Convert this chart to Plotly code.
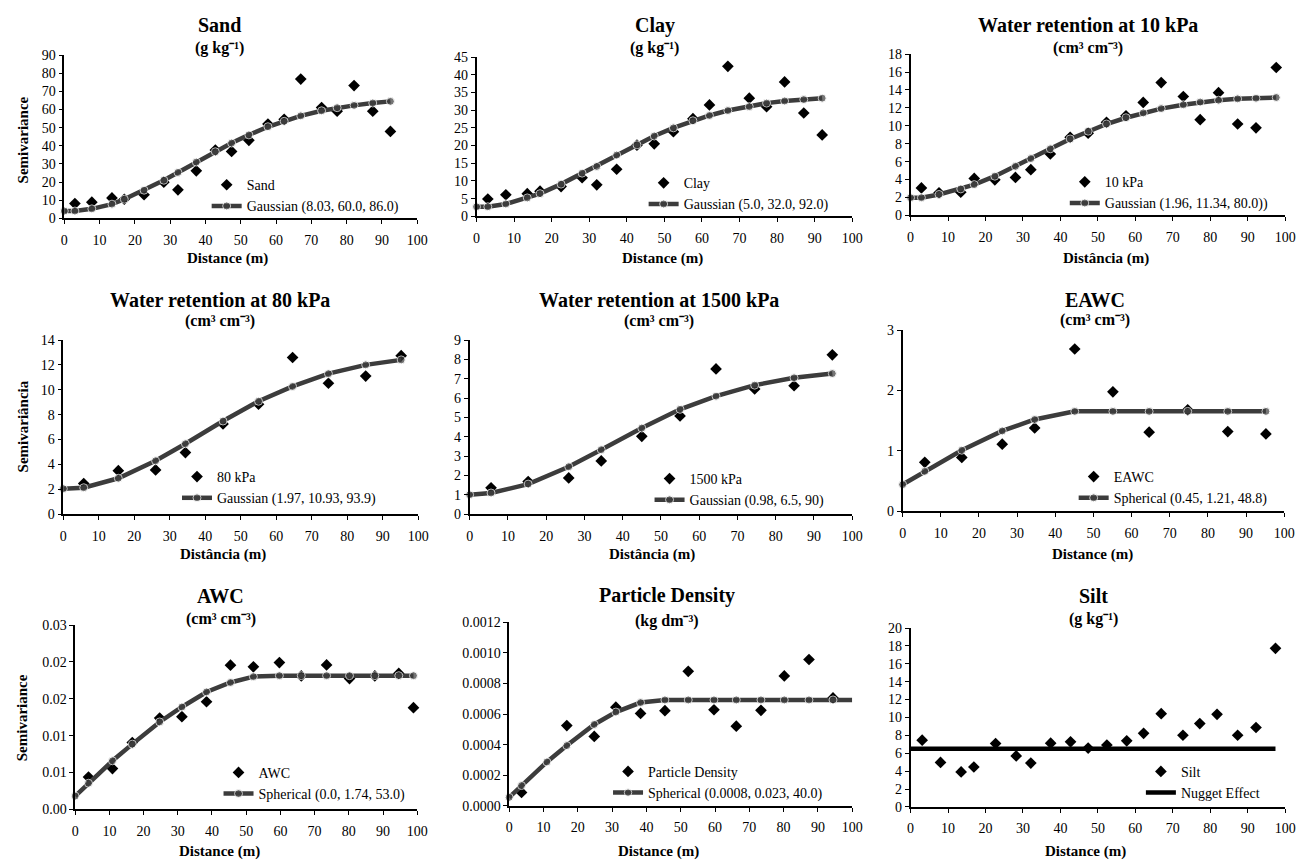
import plotly.graph_objects as go

W, H = 1316, 866
FONT = "Liberation Serif"

# ---------------- data ----------------
sand_x = [3.0, 7.8, 13.5, 17.0, 22.6, 28.2, 32.2, 37.4, 42.8, 47.4, 52.3, 57.7, 62.3, 67.0, 72.9, 77.3, 82.1, 87.4, 92.4]
sand_y = [8.1, 8.9, 11.2, 10.5, 13.0, 19.9, 15.7, 26.2, 37.6, 36.9, 43.0, 52.0, 54.6, 76.8, 61.1, 59.1, 73.2, 59.1, 47.9]
sand_mx = [0, 3.0, 7.8, 13.5, 17.0, 22.6, 28.2, 32.2, 37.4, 42.8, 47.4, 52.3, 57.7, 62.3, 67.0, 72.9, 77.3, 82.1, 87.4, 92.4]
sand_my = [4.0, 4.0, 5.2, 7.8, 10.5, 15.5, 21.0, 25.3, 31.0, 36.7, 41.5, 46.0, 50.5, 53.5, 56.5, 59.3, 61.0, 62.3, 63.6, 64.5]

clay_x = [3.0, 7.8, 13.5, 16.9, 22.5, 28.1, 32.0, 37.3, 42.7, 47.3, 52.4, 57.6, 62.0, 66.9, 72.6, 77.2, 82.0, 87.1, 92.0]
clay_y = [4.9, 6.1, 6.4, 7.1, 8.4, 10.9, 8.9, 13.3, 20.1, 20.5, 23.9, 27.6, 31.5, 42.4, 33.4, 31.0, 38.0, 29.2, 23.0]
clay_mx = [0, 3.0, 7.8, 13.5, 16.9, 22.5, 28.1, 32.0, 37.3, 42.7, 47.3, 52.4, 57.6, 62.0, 66.9, 72.6, 77.2, 82.0, 87.1, 92.0]
clay_my = [2.7, 2.7, 3.5, 5.2, 6.4, 9.1, 12.2, 14.1, 17.3, 20.2, 22.7, 25.0, 27.0, 28.5, 29.9, 31.0, 32.0, 32.6, 33.0, 33.4]

k10_x = [2.9, 7.6, 13.4, 17.0, 22.5, 28.0, 32.1, 37.3, 42.6, 47.4, 52.3, 57.5, 62.1, 66.9, 72.8, 77.3, 82.2, 87.3, 92.2, 97.6]
k10_y = [3.06, 2.51, 2.59, 4.12, 3.97, 4.23, 5.10, 6.85, 8.71, 9.18, 10.39, 11.12, 12.61, 14.83, 13.27, 10.68, 13.70, 10.20, 9.77, 16.51]
k10_mx = [0, 2.9, 7.6, 13.4, 17.0, 22.5, 28.0, 32.1, 37.3, 42.6, 47.4, 52.3, 57.5, 62.1, 66.9, 72.8, 77.3, 82.2, 87.3, 92.2, 97.6]
k10_my = [1.97, 1.97, 2.33, 2.95, 3.43, 4.37, 5.47, 6.34, 7.43, 8.53, 9.40, 10.2, 10.9, 11.44, 11.92, 12.35, 12.65, 12.86, 13.01, 13.08, 13.16]

k80_x = [5.75, 15.5, 26.0, 34.4, 45.0, 55.0, 64.6, 74.7, 85.2, 95.2]
k80_y = [2.46, 3.49, 3.55, 4.95, 7.25, 8.84, 12.6, 10.53, 11.11, 12.75]
k80_mx = [0, 5.75, 15.5, 26.0, 34.4, 45.0, 55.0, 64.6, 74.7, 85.2, 95.2]
k80_my = [2.04, 2.12, 2.88, 4.29, 5.66, 7.49, 9.08, 10.27, 11.3, 12.01, 12.41]

k1500_x = [5.6, 15.3, 25.9, 34.4, 45.0, 55.0, 64.4, 74.5, 84.8, 94.8]
k1500_y = [1.36, 1.68, 1.87, 2.75, 4.02, 5.08, 7.51, 6.47, 6.64, 8.24]
k1500_mx = [0, 5.6, 15.3, 25.9, 34.4, 45.0, 55.0, 64.4, 74.5, 84.8, 94.8]
k1500_my = [1.0, 1.09, 1.55, 2.45, 3.33, 4.45, 5.42, 6.10, 6.67, 7.05, 7.27]

eawc_x = [5.8, 15.5, 26.1, 34.6, 45.1, 55.1, 64.6, 74.7, 85.2, 95.2]
eawc_y = [0.81, 0.89, 1.11, 1.38, 2.69, 1.98, 1.31, 1.68, 1.32, 1.28]
eawc_mx = [0, 5.8, 15.5, 26.1, 34.6, 45.1, 55.1, 64.6, 74.7, 85.2, 95.2]
eawc_my = [0.44, 0.66, 1.01, 1.33, 1.52, 1.655, 1.655, 1.655, 1.655, 1.655, 1.655]

awc_x = [3.9, 10.9, 16.7, 24.7, 31.2, 38.4, 45.4, 52.1, 59.7, 66.1, 73.5, 80.2, 87.6, 94.6, 98.9]
awc_y = [0.00438, 0.00553, 0.00907, 0.01239, 0.01257, 0.0146, 0.01956, 0.01934, 0.01991, 0.0181, 0.0196, 0.01774, 0.0181, 0.01845, 0.0138]
awc_mx = [0, 3.9, 10.9, 16.7, 24.7, 31.2, 38.4, 45.4, 52.1, 59.7, 66.1, 73.5, 80.2, 87.6, 94.6, 98.9]
awc_my = [0.0018, 0.00354, 0.00659, 0.00885, 0.01186, 0.01389, 0.01593, 0.01721, 0.01801, 0.01814, 0.01814, 0.01814, 0.01814, 0.01814, 0.01814, 0.01814]
awc_tickvals = [0, 0.005, 0.010, 0.015, 0.020, 0.025]
awc_ticktext = ["0.00", "0.01", "0.01", "0.02", "0.02", "0.03"]

pd_x = [3.6, 16.8, 24.8, 31.1, 38.3, 45.4, 52.2, 59.7, 66.2, 73.4, 80.2, 87.4, 94.4]
pd_y = [0.000088, 0.000525, 0.000454, 0.000645, 0.000604, 0.000622, 0.000879, 0.000628, 0.000521, 0.000624, 0.000849, 0.000956, 0.000705]
pd_mx = [0, 3.6, 11.0, 16.8, 24.8, 31.1, 38.3, 45.4, 52.2, 59.7, 66.2, 73.4, 80.2, 87.4, 94.4, 100]
pd_my = [0.000056, 0.000133, 0.000287, 0.000394, 0.000532, 0.000613, 0.000675, 0.000692, 0.000692, 0.000692, 0.000692, 0.000692, 0.000692, 0.000692, 0.000692, 0.000692]

silt_x = [3.1, 8.0, 13.5, 16.9, 22.7, 28.2, 32.1, 37.4, 42.7, 47.4, 52.4, 57.7, 62.2, 66.9, 72.7, 77.2, 81.8, 87.3, 92.2, 97.4]
silt_y = [7.46, 4.97, 3.91, 4.46, 7.09, 5.70, 4.90, 7.13, 7.28, 6.58, 6.91, 7.39, 8.23, 10.42, 8.01, 9.32, 10.35, 8.01, 8.88, 17.73]
silt_mx = [0, 97.4]
silt_my = [6.51, 6.51]

panels = [
    dict(title="Sand", unit="(g kg⁻¹)", dname="Sand", dx=sand_x, dy=sand_y,
         mname="Gaussian (8.03, 60.0, 86.0)", mx=sand_mx, my=sand_my, yr=[0, 90], dt=10,
         xt="Distance (m)", yt="Semivariance"),
    dict(title="Clay", unit="(g kg⁻¹)", dname="Clay", dx=clay_x, dy=clay_y,
         mname="Gaussian (5.0, 32.0, 92.0)", mx=clay_mx, my=clay_my, yr=[0, 45], dt=5,
         xt="Distance (m)", yt=None),
    dict(title="Water retention at 10 kPa", unit="(cm³ cm⁻³)", dname="10 kPa", dx=k10_x, dy=k10_y,
         mname="Gaussian (1.96, 11.34, 80.0))", mx=k10_mx, my=k10_my, yr=[0, 18], dt=2,
         xt="Distância (m)", yt=None),
    dict(title="Water retention at 80 kPa", unit="(cm³ cm⁻³)", dname="80 kPa", dx=k80_x, dy=k80_y,
         mname="Gaussian (1.97, 10.93, 93.9)", mx=k80_mx, my=k80_my, yr=[0, 14], dt=2,
         xt="Distância (m)", yt="Semivariância"),
    dict(title="Water retention at 1500 kPa", unit="(cm³ cm⁻³)", dname="1500 kPa", dx=k1500_x, dy=k1500_y,
         mname="Gaussian (0.98, 6.5, 90)", mx=k1500_mx, my=k1500_my, yr=[0, 9], dt=1,
         xt="Distância (m)", yt=None),
    dict(title="EAWC", unit="(cm³ cm⁻³)", dname="EAWC", dx=eawc_x, dy=eawc_y,
         mname="Spherical (0.45, 1.21, 48.8)", mx=eawc_mx, my=eawc_my, yr=[0, 3], dt=1,
         xt="Distance (m)", yt=None),
    dict(title="AWC", unit="(cm³ cm⁻³)", dname="AWC", dx=awc_x, dy=awc_y,
         mname="Spherical (0.0, 1.74, 53.0)", mx=awc_mx, my=awc_my, yr=[0, 0.025], dt=None,
         xt="Distance (m)", yt="Semivariance"),
    dict(title="Particle Density", unit="(kg dm⁻³)", dname="Particle Density", dx=pd_x, dy=pd_y,
         mname="Spherical (0.0008, 0.023, 40.0)", mx=pd_mx, my=pd_my, yr=[0, 0.0012], dt=0.0002,
         xt="Distance (m)", yt=None),
    dict(title="Silt", unit="(g kg⁻¹)", dname="Silt", dx=silt_x, dy=silt_y,
         mname="Nugget Effect", mx=silt_mx, my=silt_my, yr=[0, 20], dt=2,
         xt="Distance (m)", yt=None),
]

# ---------------- layout geometry (pixels) ----------------
boxes = [(61, 418, 49, 215), (478, 858, 51, 213), (917, 1296, 48, 212),
         (60, 419, 339, 516), (471, 858, 339, 516), (909, 1295, 329, 513),
         (72, 418, 629, 816.5), (511, 858, 626, 813), (917, 1296, 632, 814)]
title_pos = [(218, 18, 42), (658, 19, 42), (1096, 18, 42),
             (218, 298, 320), (663, 298, 320), (1104, 298, 319),
             (219, 599, 623), (671, 599, 625), (1102, 599, 623)]
xt_pos = [(226, 256), (666, 256), (1115, 256),
          (222, 557), (655, 557), (1101, 557),
          (218, 859), (662, 859), (1094, 859)]
yt_pos = [(19, 135), None, None, (19, 427), None, None, (19, 723), None, None]
leg_pos = [(247, 186), (689, 184), (1115, 183),
           (217, 483), (695, 485), (1124, 483),
           (259, 784), (653, 783), (1192, 783)]

def px(x):
    return x / W

def py(y):
    return 1 - y / H

BOLD = dict(family=FONT, weight="bold", color="black")

fig = go.Figure()
layout = dict(width=W, height=H, margin=dict(l=0, r=0, t=0, b=0),
              paper_bgcolor="white", plot_bgcolor="white",
              font=dict(family=FONT, size=14, color="black"),
              annotations=[])

for i, p in enumerate(panels):
    n = i + 1
    sfx = "" if n == 1 else str(n)
    x0, x1, y0, y1 = boxes[i]
    leg = "legend" if n == 1 else f"legend{n}"
    xa, ya = f"x{sfx}", f"y{sfx}"

    fig.add_trace(go.Scatter(x=p["dx"], y=p["dy"], mode="markers", name=p["dname"],
                             marker=dict(symbol="diamond", size=9, color="black"),
                             xaxis=xa, yaxis=ya, legend=leg, cliponaxis=False))
    if p["mname"] == "Nugget Effect":
        fig.add_trace(go.Scatter(x=p["mx"], y=p["my"], mode="lines", name=p["mname"],
                                 line=dict(color="black", width=4.5),
                                 xaxis=xa, yaxis=ya, legend=leg, cliponaxis=False))
    else:
        sizes = [8] * len(p["mx"])
        if p["dname"] == "Particle Density":
            sizes[-1] = 0
        fig.add_trace(go.Scatter(x=p["mx"], y=p["my"], mode="lines+markers", name=p["mname"],
                                 line=dict(color="#3c3c3c", width=4.5),
                                 marker=dict(symbol="circle", size=sizes, color="#3c3c3c"),
                                 xaxis=xa, yaxis=ya, legend=leg, cliponaxis=False))

    layout[f"xaxis{sfx}"] = dict(domain=[px(x0), px(x1)], anchor=ya, range=[0, 100], dtick=10,
                                 showline=True, linecolor="black", linewidth=1.5,
                                 ticks="outside", ticklen=4, tickcolor="black",
                                 showgrid=False, zeroline=False, tickfont=dict(size=14),
                                 ticklabelstandoff=4)
    yax = dict(domain=[py(y1), py(y0)], anchor=xa, range=p["yr"],
               showline=True, linecolor="black", linewidth=1.5,
               ticks="outside", ticklen=4, tickcolor="black",
               showgrid=False, zeroline=False, tickfont=dict(size=14))
    if p["dt"] is None:
        yax.update(tickmode="array", tickvals=awc_tickvals, ticktext=awc_ticktext)
    else:
        yax.update(dtick=p["dt"])
        if p["dt"] < 0.001:
            yax.update(tickformat=".4f")
    layout[f"yaxis{sfx}"] = yax

    lx, ly = leg_pos[i]
    layout[leg] = dict(x=px(lx - 42), y=py(ly - 21), xanchor="left", yanchor="top",
                       bgcolor="rgba(0,0,0,0)", font=dict(size=14, family=FONT),
                       tracegroupgap=0)

    tx, ty, sy = title_pos[i]
    layout["annotations"].append(dict(text=p["title"], x=px(tx), y=py(ty),
                                      xref="paper", yref="paper", showarrow=False,
                                      xanchor="center", yanchor="middle",
                                      font=dict(size=20, **BOLD)))
    layout["annotations"].append(dict(text=p["unit"], x=px(tx), y=py(sy),
                                      xref="paper", yref="paper", showarrow=False,
                                      xanchor="center", yanchor="middle",
                                      font=dict(size=16, **BOLD)))
    ax, ay = xt_pos[i]
    layout["annotations"].append(dict(text=p["xt"], x=px(ax), y=py(ay),
                                      xref="paper", yref="paper", showarrow=False,
                                      xanchor="center", yanchor="middle",
                                      font=dict(size=15, **BOLD)))
    if p["yt"]:
        yx, yy = yt_pos[i]
        layout["annotations"].append(dict(text=p["yt"], x=px(yx), y=py(yy),
                                          xref="paper", yref="paper", showarrow=False,
                                          xanchor="center", yanchor="middle", textangle=-90,
                                          font=dict(size=15, **BOLD)))

fig.update_layout(**layout)
fig.write_html("out.html")
